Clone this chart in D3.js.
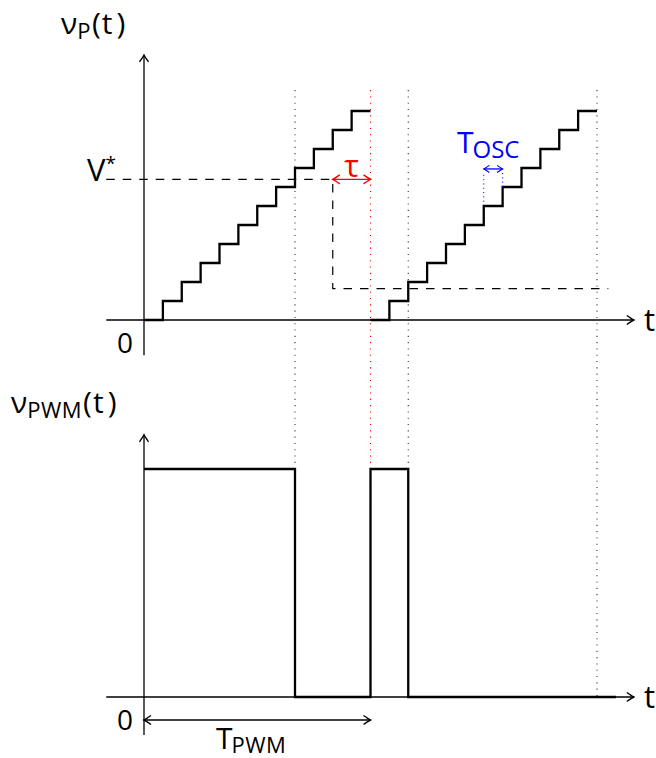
<!DOCTYPE html>
<html>
<head>
<meta charset="utf-8">
<script src="https://cdn.jsdelivr.net/npm/d3@7"></script>
<style>
	body { margin: 0; background: #fff; }
	text { font-family: "Open Sans", sans-serif; }
</style>
</head>
<body>
<div id="chart"></div>
<script>
// Sawtooth counter v_P(t), two PWM periods of 12 oscillator ticks
const ramp1Time  = [0, 1, 2, 3, 4, 5, 6, 7, 8, 9, 10, 11, 12];
const ramp1Level = [0, 1, 2, 3, 4, 5, 6, 7, 8, 9, 10, 11, 11];
const ramp2Time  = [12, 13, 14, 15, 16, 17, 18, 19, 20, 21, 22, 23, 24];
const ramp2Level = [0, 1, 2, 3, 4, 5, 6, 7, 8, 9, 10, 11, 11];

// Reference level V* and its delayed copy
const refTime  = [-2, 10, 10, 24.6];
const refLevel = [7.4, 7.4, 1.65, 1.65];

// PWM output
const pwmTime  = [0, 8, 12, 14, 25];
const pwmLevel = [1, 0, 1, 0, 0];

// Event lines
const blackEvents = [8, 14, 24];
const redEvents = [12];
const tauSpan = [10, 12];
const oscSpan = [18, 19];
const oscLevels = [6, 7];
const pwmSpan = [0, 12];

(function() {
	const width = 656, height = 758;

	const x = d3.scaleLinear().domain([0, 24]).range([144, 597]);
	const yTop = d3.scaleLinear().domain([0, 11]).range([320, 111]);
	const yBot = d3.scaleLinear().domain([0, 1]).range([697, 469]);

	const svg = d3.select("#chart")
		.append("svg")
			.attr("width", width)
			.attr("height", height);

	// Arrow heads
	const defs = svg.append("defs");
	function marker(id, color, size) {
		defs.append("marker")
				.attr("id", id)
				.attr("viewBox", "-9 -6 11 12")
				.attr("refX", 0)
				.attr("refY", 0)
				.attr("markerUnits", "userSpaceOnUse")
				.attr("markerWidth", 11 * size)
				.attr("markerHeight", 12 * size)
				.attr("orient", "auto-start-reverse")
			.append("path")
				.attr("d", "M-7,-4.5 Q-2,-1 0,0 Q-2,1 -7,4.5")
				.attr("fill", "none")
				.attr("stroke", color)
				.attr("stroke-width", 1.4);
	}
	marker("arr", "#000", 1);
	marker("arrRed", "#f00", 1);
	marker("arrBlue", "#00f", 0.8);

	/////////////////////////////////////////////////////////////////////////////
	// Dotted event lines (span both panels)
	svg.append("g")
		.selectAll("line")
		.data(blackEvents.map(t => ({t, c: "#333"})).concat(redEvents.map(t => ({t, c: "#f00"}))))
		.enter()
		.append("line")
			.attr("x1", d => x(d.t))
			.attr("x2", d => x(d.t))
			.attr("y1", yTop(12.1))
			.attr("y2", yBot(0))
			.attr("stroke", d => d.c)
			.attr("stroke-width", 1.1)
			.attr("stroke-dasharray", "1.1,5.2");

	/////////////////////////////////////////////////////////////////////////////
	// Axes
	const axes = svg.append("g")
		.attr("stroke", "#000")
		.attr("stroke-width", 1.3);

	axes.append("line")
		.attr("x1", x(-2)).attr("x2", x(25.95))
		.attr("y1", yTop(0)).attr("y2", yTop(0))
		.attr("marker-end", "url(#arr)");
	axes.append("line")
		.attr("x1", x(0)).attr("x2", x(0))
		.attr("y1", yTop(-1.85)).attr("y2", yTop(13.95))
		.attr("marker-end", "url(#arr)");
	axes.append("line")
		.attr("x1", x(-2)).attr("x2", x(25.95))
		.attr("y1", yBot(0)).attr("y2", yBot(0))
		.attr("marker-end", "url(#arr)");
	axes.append("line")
		.attr("x1", x(0)).attr("x2", x(0))
		.attr("y1", yBot(-0.167)).attr("y2", yBot(1.15))
		.attr("marker-end", "url(#arr)");

	/////////////////////////////////////////////////////////////////////////////
	// Reference (dashed)
	const refLine = d3.line()
		.x(d => x(d[0]))
		.y(d => yTop(d[1]));

	svg.append("path")
		.attr("d", refLine(d3.zip(refTime, refLevel)))
		.attr("fill", "none")
		.attr("stroke", "#000")
		.attr("stroke-width", 1.2)
		.attr("stroke-dasharray", "8.5,8");

	/////////////////////////////////////////////////////////////////////////////
	// Staircase ramps
	const stepLine = d3.line()
		.curve(d3.curveStepAfter)
		.x(d => x(d[0]))
		.y(d => yTop(d[1]));

	[[ramp1Time, ramp1Level], [ramp2Time, ramp2Level]].forEach(r => {
		svg.append("path")
			.attr("d", stepLine(d3.zip(r[0], r[1])))
			.attr("fill", "none")
			.attr("stroke", "#000")
			.attr("stroke-width", 2.3);
	});

	// PWM output
	const pwmLine = d3.line()
		.curve(d3.curveStepAfter)
		.x(d => x(d[0]))
		.y(d => yBot(d[1]));

	svg.append("path")
		.attr("d", pwmLine(d3.zip(pwmTime, pwmLevel)))
		.attr("fill", "none")
		.attr("stroke", "#000")
		.attr("stroke-width", 2.3);

	/////////////////////////////////////////////////////////////////////////////
	// tau
	svg.append("line")
		.attr("x1", x(tauSpan[0])).attr("x2", x(tauSpan[1]))
		.attr("y1", yTop(7.4)).attr("y2", yTop(7.4))
		.attr("stroke", "#f00")
		.attr("stroke-width", 1.3)
		.attr("marker-start", "url(#arrRed)")
		.attr("marker-end", "url(#arrRed)");

	svg.append("text")
		.attr("x", x((tauSpan[0] + tauSpan[1]) / 2))
		.attr("y", 177)
		.attr("text-anchor", "middle")
		.attr("fill", "#f00")
		.style("font-size", "31px")
		.text("τ");

	// T_OSC
	svg.append("g")
		.selectAll("line")
		.data(d3.zip(oscSpan, oscLevels))
		.enter()
		.append("line")
			.attr("x1", d => x(d[0])).attr("x2", d => x(d[0]))
			.attr("y1", d => yTop(d[1])).attr("y2", yTop(7.75))
			.attr("stroke", "#00f")
			.attr("stroke-width", 1)
			.attr("stroke-dasharray", "1.1,3.2");

	svg.append("line")
		.attr("x1", x(oscSpan[0])).attr("x2", x(oscSpan[1]))
		.attr("y1", yTop(7.95)).attr("y2", yTop(7.95))
		.attr("stroke", "#00f")
		.attr("stroke-width", 1.3)
		.attr("marker-start", "url(#arrBlue)")
		.attr("marker-end", "url(#arrBlue)");

	const tosc = svg.append("text")
		.attr("x", 457)
		.attr("y", 153)
		.attr("fill", "#00f")
		.style("font-size", "30px");
	tosc.append("tspan").text("T");
	tosc.append("tspan").attr("dy", 5).attr("dx", -1).style("font-size", "24px").text("OSC");

	// T_PWM
	svg.append("line")
		.attr("x1", x(pwmSpan[0])).attr("x2", x(pwmSpan[1]))
		.attr("y1", 720).attr("y2", 720)
		.attr("stroke", "#000")
		.attr("stroke-width", 1.3)
		.attr("marker-start", "url(#arr)")
		.attr("marker-end", "url(#arr)");

	const tpwm = svg.append("text")
		.attr("x", 216)
		.attr("y", 749)
		.style("font-size", "30px");
	tpwm.append("tspan").text("T");
	tpwm.append("tspan").attr("dy", 4).attr("dx", -1).style("font-size", "22px")
		.style("letter-spacing", "0.5px").text("PWM");

	/////////////////////////////////////////////////////////////////////////////
	// Axis labels
	function funcLabel(x0, y0, sub) {
		const t = svg.append("text")
			.attr("x", x0)
			.attr("y", y0)
			.style("font-size", "30px");
		t.append("tspan").text("ν");
		t.append("tspan").attr("dy", 5).style("font-size", "22px")
			.style("letter-spacing", "0.5px").text(sub);
		t.append("tspan").attr("dy", -5).attr("dx", 1).text("(");
		t.append("tspan").attr("dx", 1).text("t");
		t.append("tspan").attr("dx", 4).text(")");
	}
	funcLabel(61, 34, "P");
	funcLabel(11, 413, "PWM");

	const vs = svg.append("text")
		.attr("x", 87)
		.attr("y", 181)
		.style("font-size", "31px");
	vs.append("tspan").text("V");
	vs.append("tspan").attr("dy", -11).style("font-size", "19px").text("*");

	svg.selectAll(".zero")
		.data([yTop(0), yBot(0)])
		.enter()
		.append("text")
			.attr("class", "zero")
			.attr("x", 133)
			.attr("y", d => d + 33)
			.attr("text-anchor", "end")
			.style("font-size", "28px")
			.text("0");

	svg.selectAll(".tlab")
		.data([yTop(0), yBot(0)])
		.enter()
		.append("text")
			.attr("class", "tlab")
			.attr("x", 644)
			.attr("y", d => d + 11)
			.style("font-size", "31px")
			.text("t");
})();
</script>
</body>
</html>
